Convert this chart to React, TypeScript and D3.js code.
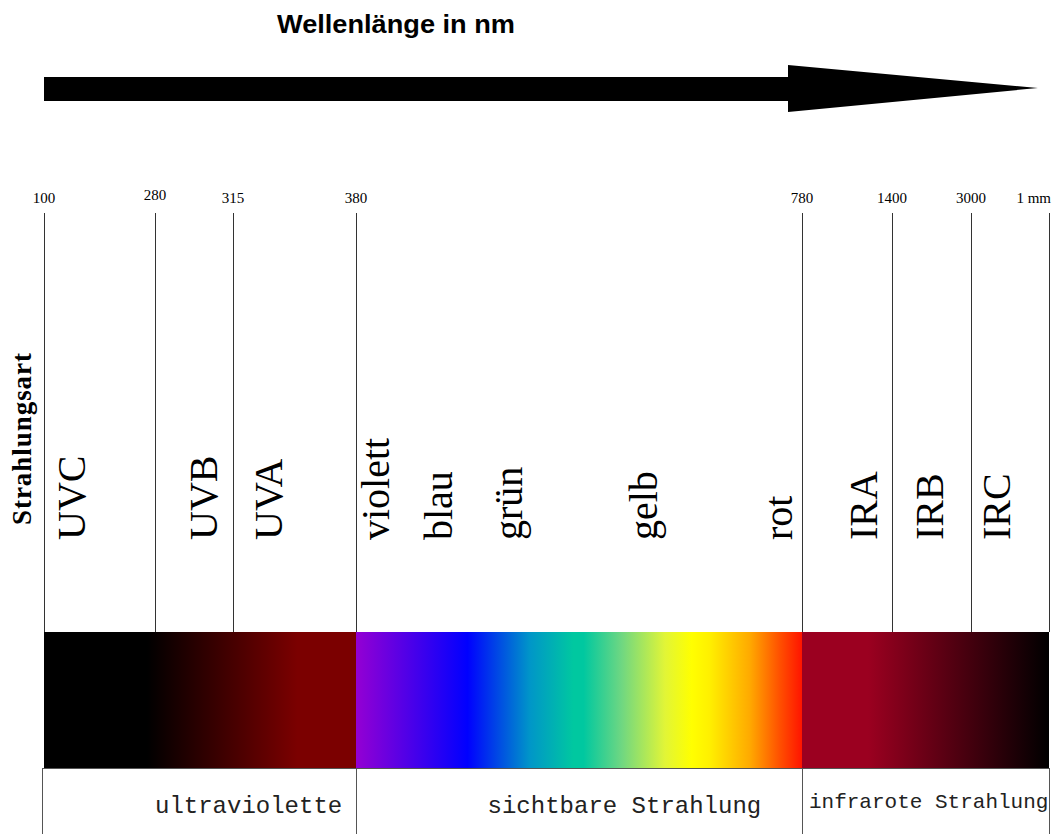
import React from "react";
import * as d3 from "d3";

// Schematic (not to scale) wavelength axis: boundaries in nm and their tick labels
const boundaryNm = [100, 280, 315, 380, 780, 1400, 3000, 1000000];
const boundaryLabels = ["100", "280", "315", "380", "780", "1400", "3000", "1 mm"];

// Radiation types (rotated labels) and the wavelength where each label sits
const bandNames = ["UVC", "UVB", "UVA", "violett", "blau", "grün", "gelb", "rot", "IRA", "IRB", "IRC"];
const bandNm = [166, 308, 341, 410, 466, 529, 650, 771, 1297, 2433, 501500];

// Main groups at the bottom
const groupNames = ["ultraviolette", "sichtbare Strahlung", "infrarote Strahlung"];
const groupStartNm = [280, 498, 828];
const groupEdgesNm = [100, 380, 780, 1000000];

// Colour spectrum stops (wavelength, colour)
const spectrumNm = [100, 267, 349, 380, 380, 480, 536, 575, 584, 618, 657, 681, 697, 733, 760, 780, 780, 1235, 1000000];
const spectrumColors = [
  "#000000", "#000000", "#7b0000", "#7b0000",
  "#9400d3", "#0000ff", "#0096c8", "#00c8a0", "#00c8a0", "#6ed782", "#e1f537", "#ffff00", "#fff000", "#ffaa00", "#ff5000", "#ff1400",
  "#9b0020", "#9b0020", "#000000",
];

const W = 1059;
const H = 834;
const axisPx = [44, 155, 233, 356, 802, 892, 971, 1049];

export default function App() {
  const x = d3.scaleLinear<number, number>().domain(boundaryNm).range(axisPx);
  const x0 = x(boundaryNm[0]);
  const x1 = x(boundaryNm[boundaryNm.length - 1]);

  const lineTop = 213;
  const barTop = 632;
  const barBottom = 768;

  const serif = "'Liberation Serif', 'Times New Roman', serif";
  const sans = "'Liberation Sans', Arial, sans-serif";
  const mono = "'Liberation Mono', 'Courier New', monospace";

  // arrow
  const arrowPath = d3.path();
  arrowPath.moveTo(x0, 77);
  arrowPath.lineTo(788, 77);
  arrowPath.lineTo(788, 65);
  arrowPath.lineTo(1038, 88);
  arrowPath.lineTo(788, 112);
  arrowPath.lineTo(788, 101);
  arrowPath.lineTo(x0, 101);
  arrowPath.closePath();

  return (
    <svg
      width={W}
      height={H}
      style={{ position: "absolute", left: 0, top: 0, background: "#fff" }}
    >
      <defs>
        <linearGradient id="spec" gradientUnits="userSpaceOnUse" x1={x0} x2={x1} y1={0} y2={0}>
          {spectrumNm.map((nm, i) => (
            <stop key={i} offset={(x(nm) - x0) / (x1 - x0)} stopColor={spectrumColors[i]} />
          ))}
        </linearGradient>
      </defs>

      <text x={277} y={33} fontFamily={sans} fontWeight="bold" fontSize={26} textLength={238} lengthAdjust="spacingAndGlyphs">
        Wellenlänge in nm
      </text>

      <path d={arrowPath.toString()} fill="#000" />

      {/* tick labels */}
      {boundaryLabels.map((lab, i) => {
        const last = i === boundaryLabels.length - 1;
        return (
          <text
            key={lab}
            x={x(boundaryNm[i]) + (last ? 2 : 0)}
            y={i === 1 ? 200 : 203}
            textAnchor={last ? "end" : "middle"}
            fontFamily={serif}
            fontSize={15}
          >
            {lab}
          </text>
        );
      })}

      {/* vertical boundary lines */}
      {boundaryNm.map((nm) => (
        <line
          key={nm}
          x1={Math.round(x(nm)) + 0.5}
          x2={Math.round(x(nm)) + 0.5}
          y1={lineTop}
          y2={barTop}
          stroke="#333"
          strokeWidth={1}
          shapeRendering="crispEdges"
        />
      ))}

      {/* y label */}
      <text
        transform={`translate(31,525) rotate(-90)`}
        fontFamily={serif}
        fontWeight="bold"
        fontSize={27}
        textLength={172}
        lengthAdjust="spacing"
      >
        Strahlungsart
      </text>

      {/* band labels */}
      {bandNames.map((name, i) => (
        <text key={name} transform={`translate(${x(bandNm[i])},540) rotate(-90)`} fontFamily={serif} fontSize={40}>
          {name}
        </text>
      ))}

      {/* spectrum bar */}
      <rect x={x0} y={barTop} width={x1 - x0} height={barBottom - barTop} fill="url(#spec)" />

      {/* bottom group boxes */}
      <line x1={x0 - 2} x2={x1} y1={barBottom + 0.5} y2={barBottom + 0.5} stroke="#555" strokeWidth={1} shapeRendering="crispEdges" />
      {groupEdgesNm.map((nm, i) => {
        const gx = Math.round(x(nm) - (i === 0 ? 2 : 0)) + 0.5;
        return (
          <line
            key={nm}
            x1={gx}
            x2={gx}
            y1={barBottom}
            y2={H}
            stroke="#555"
            strokeWidth={1}
            shapeRendering="crispEdges"
          />
        );
      })}
      {groupNames.map((g, i) => (
        <text
          key={g}
          x={x(groupStartNm[i])}
          y={i === 2 ? 808 : 813}
          fontFamily={mono}
          fontSize={i === 2 ? 21 : 24}
          fill="#222"
        >
          {g}
        </text>
      ))}
    </svg>
  );
}
